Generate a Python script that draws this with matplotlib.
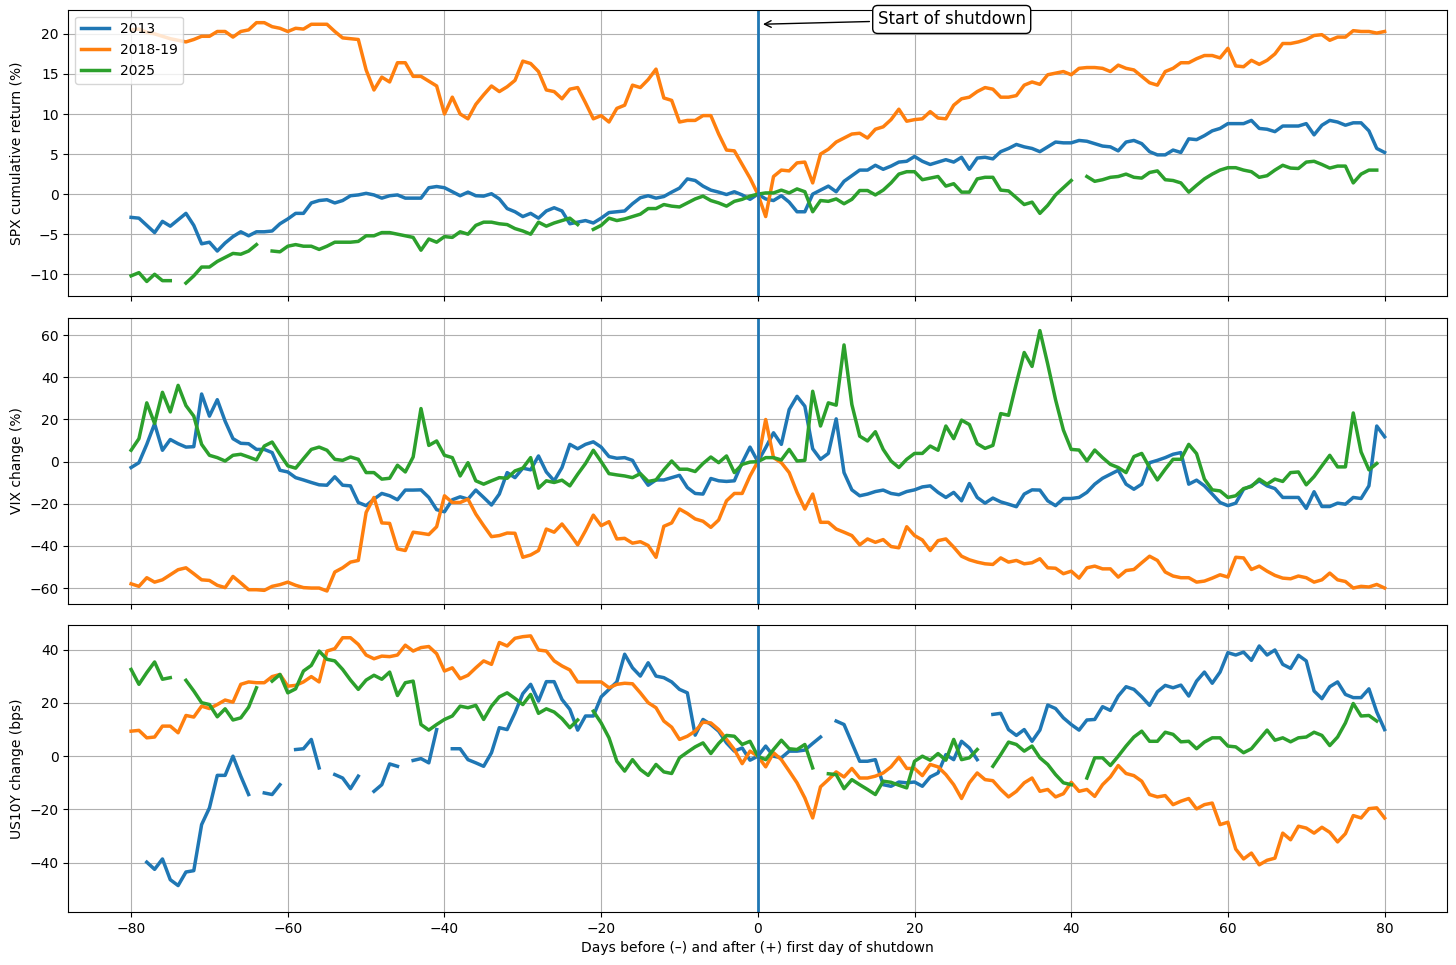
import numpy as np
import matplotlib
matplotlib.use("Agg")
import matplotlib.pyplot as plt

nan = np.nan
days = np.arange(-80, 81)

# SPX cumulative return (%)
spx_2013 = [
    -2.9, -3.0, -3.9, -4.8, -3.4, -4.0, -3.2, -2.4, -3.9, -6.2,
    -6.0, -7.1, -6.1, -5.3, -4.7, -5.2, -4.7, -4.7, -4.6, -3.7,
    -3.1, -2.4, -2.4, -1.1, -0.8, -0.7, -1.1, -0.8, -0.2, -0.1,
    0.1, -0.1, -0.5, -0.2, -0.1, -0.5, -0.5, -0.5, 0.8, 0.95,
    0.8, 0.3, -0.2, 0.25, -0.2, -0.25, 0.05, -0.6, -1.8, -2.2,
    -2.8, -2.4, -3.0, -2.1, -1.7, -2.1, -3.7, -3.5, -3.3, -3.6,
    -3.0, -2.3, -2.2, -2.1, -1.2, -0.45, -0.2, -0.5, -0.3, 0.25,
    0.75, 1.9, 1.7, 1.0, 0.5, 0.25, -0.05, 0.3, -0.1, -0.65,
    0.0, -0.6, -0.8, -0.2, -1.0, -2.2, -2.2, 0.0, 0.5, 1.0,
    0.3, 1.6, 2.3, 3.0, 3.0, 3.6, 3.1, 3.5, 4.0, 4.1,
    4.7, 4.1, 3.7, 4.0, 4.3, 4.0, 4.6, 3.1, 4.5, 4.6,
    4.4, 5.3, 5.7, 6.2, 5.9, 5.7, 5.3, 5.9, 6.5, 6.4,
    6.4, 6.7, 6.6, 6.3, 6.0, 5.9, 5.4, 6.5, 6.7, 6.3,
    5.3, 4.9, 4.9, 5.5, 5.2, 6.9, 6.8, 7.3, 7.9, 8.2,
    8.8, 8.8, 8.8, 9.2, 8.2, 8.1, 7.8, 8.5, 8.5, 8.5,
    8.8, 7.4, 8.6, 9.2, 9.0, 8.6, 8.9, 8.9, 7.9, 5.7, 5.2]

spx_2018 = [
    20.5, 20.6, 20.2, 20.0, 19.7, 19.4, 19.2, 19.0, 19.3, 19.7,
    19.7, 20.3, 20.3, 19.6, 20.3, 20.5, 21.4, 21.4, 20.9, 20.7,
    20.3, 20.7, 20.6, 21.2, 21.2, 21.2, 20.3, 19.5, 19.4, 19.3,
    15.5, 13.0, 14.6, 14.0, 16.4, 16.4, 14.7, 14.7, 14.1, 13.5,
    10.0, 12.1, 10.0, 9.4, 11.2, 12.4, 13.5, 12.8, 13.4, 14.2,
    16.6, 16.3, 15.3, 13.0, 12.8, 11.9, 13.1, 13.3, 11.4, 9.4,
    9.8, 9.0, 10.7, 11.1, 13.6, 13.3, 14.3, 15.6, 12.0, 11.7,
    9.0, 9.2, 9.2, 9.8, 9.8, 7.5, 5.5, 5.4, 3.7, 2.0,
    0.0, -2.8, 2.2, 3.0, 2.9, 3.9, 4.0, 1.4, 5.0, 5.6,
    6.5, 7.0, 7.5, 7.6, 7.0, 8.1, 8.4, 9.3, 10.6, 9.1,
    9.3, 9.4, 10.3, 9.5, 9.4, 11.1, 11.9, 12.1, 12.8, 13.3,
    13.1, 12.1, 12.1, 12.3, 13.6, 14.0, 13.7, 14.9, 15.1, 15.3,
    14.9, 15.7, 15.8, 15.8, 15.7, 15.3, 16.1, 15.7, 15.5, 14.7,
    13.9, 13.6, 15.3, 15.7, 16.4, 16.4, 16.9, 17.3, 17.3, 17.0,
    18.2, 16.0, 15.9, 16.7, 16.2, 16.7, 17.5, 18.8, 18.8, 19.0,
    19.3, 19.8, 19.9, 19.2, 19.6, 19.6, 20.4, 20.3, 20.3, 20.1, 20.3]

spx_2025 = [
    -10.2, -9.8, -10.9, -10.0, -10.8, -10.8, nan, -11.1, -10.2, -9.1,
    -9.1, -8.4, -7.9, -7.4, -7.5, -7.1, -6.3, nan, -7.1, -7.2,
    -6.5, -6.3, -6.5, -6.5, -6.9, -6.5, -6.0, -6.0, -6.0, -5.9,
    -5.2, -5.2, -4.8, -4.8, -5.0, -5.2, -5.4, -7.0, -5.6, -6.0,
    -5.3, -5.4, -4.7, -5.0, -3.9, -3.5, -3.5, -3.7, -3.8, -4.3,
    -4.6, -5.0, -3.5, -4.0, -3.6, -3.3, -3.0, -3.8, nan, -4.4,
    -3.9, -3.0, -3.3, -3.1, -2.8, -2.5, -1.8, -1.8, -1.3, -1.5,
    -1.6, -1.1, -0.6, -0.25, -0.8, -1.1, -1.5, -0.9, -0.65, -0.25,
    0.0, 0.15, 0.15, 0.5, 0.15, 0.65, 0.3, -2.2, -0.8, -0.9,
    -0.6, -1.2, -0.65, 0.45, 0.45, -0.1, 0.5, 1.4, 2.5, 2.8,
    2.8, 1.8, 2.0, 2.2, 1.0, 1.3, 0.25, 0.25, 1.9, 2.1,
    2.1, 0.5, 0.4, -0.45, -1.3, -1.0, -2.4, -1.4, -0.1, 0.8,
    1.7, nan, 2.2, 1.6, 1.8, 2.1, 2.2, 2.5, 2.1, 2.0,
    2.7, 2.9, 1.8, 1.7, 1.4, 0.25, 1.1, 1.9, 2.5, 3.0,
    3.3, 3.3, 3.0, 2.8, 2.1, 2.3, 3.0, 3.6, 3.25, 3.2,
    4.0, 4.1, 3.7, 3.25, 3.5, 3.5, 1.4, 2.5, 3.0, 3.0, nan]

# VIX change (%)
vix_2013 = [
    -2.8, -0.5, 8.2, 18.0, 5.4, 10.5, 8.5, 6.9, 7.1, 32.1,
    21.6, 29.4, 19.2, 10.9, 8.7, 8.5, 5.8, 5.8, 4.3, -4.1,
    -4.9, -7.6, -8.7, -9.9, -11.0, -11.2, -7.2, -11.2, -11.5, -19.4,
    -20.9, -17.8, -15.1, -16.2, -18.1, -13.5, -13.5, -13.4, -17.0, -22.8,
    -23.8, -18.1, -16.7, -17.8, -13.5, -17.0, -20.6, -15.4, -5.2, -7.6,
    -3.1, -3.9, 2.7, -4.9, -9.1, -2.8, 8.2, 6.1, 8.2, 9.4,
    6.9, 2.4, 1.6, 1.9, 0.6, -6.0, -11.2, -8.7, -8.7, -7.6,
    -6.5, -12.3, -15.1, -15.4, -8.0, -9.1, -9.4, -9.1, -0.5, 6.9,
    0.0, 6.6, 13.7, 8.2, 24.7, 31.0, 26.3, 6.1, 1.1, 3.9,
    20.3, -5.2, -13.4, -16.2, -15.4, -14.2, -13.5, -15.1, -15.7, -14.2,
    -13.4, -12.0, -11.5, -14.6, -17.0, -14.6, -18.6, -10.4, -17.0, -19.7,
    -17.3, -19.1, -20.2, -21.4, -15.4, -13.4, -13.5, -18.6, -20.9, -17.5,
    -17.5, -17.0, -14.6, -10.7, -7.9, -6.0, -4.1, -10.7, -13.1, -10.7,
    -0.5, 0.6, 1.9, 3.5, 4.3, -10.7, -8.8, -11.5, -15.4, -19.4,
    -20.9, -19.7, -13.1, -11.5, -9.1, -11.5, -12.8, -17.0, -17.0, -17.0,
    -22.2, -14.3, -21.3, -21.3, -19.7, -20.2, -17.0, -17.5, -11.5, 16.9, 11.8]

vix_2018 = [
    -58.0, -59.2, -55.1, -57.2, -56.1, -53.7, -51.3, -50.4, -53.2, -56.1,
    -56.4, -58.7, -59.8, -54.5, -57.6, -60.8, -60.8, -61.1, -59.2, -58.4,
    -57.2, -58.7, -59.8, -60.0, -60.0, -61.4, -52.4, -50.4, -47.7, -46.9,
    -24.1, -17.0, -29.1, -29.3, -41.4, -42.2, -33.5, -34.0, -34.6, -30.9,
    -16.2, -19.4, -19.4, -17.8, -24.9, -30.4, -35.6, -35.1, -33.9, -34.0,
    -45.4, -44.3, -42.2, -32.0, -33.5, -29.6, -34.3, -39.5, -32.8, -25.4,
    -30.4, -28.5, -36.7, -36.4, -38.7, -38.0, -39.8, -45.4, -30.7, -29.1,
    -22.5, -24.6, -27.2, -28.3, -31.2, -27.7, -18.6, -15.1, -15.1, -6.8,
    0.0, 20.0, 1.9, -0.5, -5.2, -14.6, -22.5, -15.4, -28.8, -28.8,
    -32.0, -33.5, -35.1, -39.5, -36.7, -38.3, -37.0, -40.3, -40.9, -30.9,
    -35.1, -37.2, -42.2, -37.5, -36.7, -40.6, -44.9, -46.6, -47.7, -48.5,
    -48.8, -45.7, -47.7, -46.9, -48.5, -48.0, -46.1, -50.4, -50.6, -53.2,
    -52.0, -55.3, -50.4, -49.6, -50.9, -50.9, -54.8, -51.7, -51.2, -48.0,
    -44.9, -46.9, -52.4, -54.3, -55.1, -55.1, -57.2, -56.7, -55.3, -53.7,
    -54.8, -45.4, -45.7, -51.2, -49.6, -52.0, -54.0, -55.3, -55.6, -54.3,
    -55.1, -57.2, -56.1, -52.9, -56.1, -56.9, -60.0, -59.2, -59.5, -58.3, -60.0]

vix_2025 = [
    5.4, 10.9, 27.9, 18.1, 32.9, 23.6, 36.2, 26.6, 21.6, 8.2,
    3.0, 1.9, 0.3, 3.0, 3.5, 2.2, 0.8, 7.4, 9.3, 3.5,
    -2.0, -3.1, 1.4, 5.8, 6.9, 5.4, 1.1, 0.6, 2.2, 1.1,
    -5.2, -5.2, -8.3, -7.9, -1.7, -4.9, 2.2, 25.2, 7.7, 9.8,
    3.0, 1.9, -6.8, -0.5, -9.1, -10.7, -9.1, -7.6, -7.9, -4.4,
    -3.1, 1.9, -12.6, -9.1, -9.9, -8.8, -11.5, -6.0, -0.9, 5.4,
    0.0, -5.7, -6.3, -6.8, -7.6, -5.7, -9.4, -8.7, -3.9, 0.3,
    -3.6, -3.6, -4.7, -0.9, 2.2, -0.5, 2.7, -5.2, -1.3, -0.2,
    0.0, 1.9, 1.9, 0.8, 5.8, 0.3, 0.6, 33.4, 16.9, 27.9,
    26.8, 55.4, 27.1, 12.1, 9.8, 14.2, 5.8, 0.3, -2.8, 1.1,
    3.9, 3.9, 7.4, 5.4, 16.9, 10.9, 19.7, 17.6, 8.5, 6.3,
    7.7, 22.8, 22.0, 37.3, 51.8, 45.2, 62.2, 46.3, 29.4, 15.0,
    5.8, 5.5, 0.3, 5.5, 1.9, -1.3, -2.8, -5.2, 2.4, 3.9,
    -2.8, -8.7, -3.6, 1.1, 1.1, 8.2, 3.8, -8.3, -13.4, -13.9,
    -17.0, -16.2, -12.8, -11.8, -8.3, -10.7, -8.3, -9.4, -5.2, -4.9,
    -11.0, -7.1, -2.0, 3.0, -2.5, -2.5, 23.1, 4.6, -3.9, -0.9, nan]

# US10Y change (bps)
us10_2013 = [
    nan, nan, -39.8, -42.5, -38.6, -46.4, -48.6, -43.5, -43.0, -25.7,
    -19.4, -7.2, -7.2, 0.0, -7.5, -14.4, nan, -13.8, -14.4, -10.7,
    nan, 2.5, 2.8, 6.3, -4.4, nan, -6.9, -8.2, -12.2, -7.5,
    nan, -13.2, -10.7, -2.9, -3.8, nan, -1.6, -0.9, -2.5, 10.0,
    nan, 2.8, 2.8, -1.3, -2.5, -3.8, 1.3, 10.7, 10.0, 16.3,
    23.5, 27.0, 20.7, 28.0, 28.0, 21.3, 17.6, 9.8, 15.1, 15.1,
    22.3, 25.1, 27.9, 38.3, 33.2, 30.1, 35.1, 30.1, 29.5, 27.9,
    25.1, 23.8, 7.9, 13.8, 11.9, 9.4, 5.0, 1.9, 3.1, -1.5,
    0.0, 3.8, 0.0, -0.6, 1.9, 1.9, 2.3, 4.8, 7.2, nan,
    13.2, 11.9, 5.0, -1.9, -1.9, -1.3, -10.7, -11.3, -9.7, -10.0,
    -9.7, -11.3, -7.8, -6.3, 0.6, -1.3, 5.6, 3.1, -1.3, nan,
    15.7, 16.1, 10.0, 7.8, 10.0, 5.6, 9.8, 19.2, 17.9, 14.4,
    11.9, 9.8, 13.6, 13.8, 18.6, 17.2, 22.6, 26.1, 25.1, 22.3,
    19.1, 24.2, 26.6, 25.7, 26.7, 22.6, 28.2, 31.6, 27.4, 31.6,
    38.9, 38.0, 39.1, 36.0, 41.4, 38.0, 39.9, 34.5, 33.0, 37.9,
    35.8, 24.5, 21.6, 26.1, 27.9, 23.2, 22.0, 22.0, 25.3, 16.6, 10.0]

us10_2018 = [
    9.4, 9.7, 6.9, 7.2, 11.3, 11.3, 8.8, 15.3, 14.7, 18.8,
    17.9, 19.4, 21.1, 20.3, 27.0, 27.9, 27.6, 27.6, 29.9, 30.7,
    26.3, 26.6, 27.9, 29.9, 27.9, 39.5, 40.4, 44.5, 44.5, 42.0,
    38.0, 36.6, 37.6, 37.4, 38.0, 41.7, 39.5, 40.8, 41.2, 38.5,
    32.0, 33.2, 29.1, 30.4, 33.2, 35.8, 34.5, 42.7, 41.4, 44.3,
    44.9, 45.2, 39.9, 39.5, 35.8, 33.9, 32.4, 27.9, 27.9, 27.9,
    27.9, 25.7, 27.0, 27.4, 27.2, 23.8, 20.1, 18.2, 13.2, 10.9,
    6.3, 7.5, 9.4, 12.8, 12.5, 10.0, 6.3, 2.5, -2.8, 1.9,
    0.0, -4.0, 1.3, -1.3, -5.6, -10.0, -15.7, -23.2, -11.5, -8.8,
    -5.9, -7.8, -4.6, -8.2, -8.2, -7.5, -6.3, -4.0, -0.4, -4.6,
    -4.6, -7.3, -3.1, -4.0, -6.9, -10.7, -15.9, -10.0, -6.3, -8.8,
    -9.2, -12.5, -15.3, -13.2, -10.0, -8.2, -13.2, -12.5, -15.3, -14.1,
    -9.8, -13.2, -12.5, -15.1, -10.7, -7.8, -3.5, -6.5, -7.3, -9.4,
    -14.4, -15.3, -14.8, -18.2, -16.9, -15.9, -19.8, -18.2, -17.6, -25.7,
    -24.8, -34.9, -38.6, -36.4, -40.8, -39.1, -38.3, -28.9, -31.4, -26.3,
    -27.0, -28.9, -26.7, -28.6, -32.2, -29.1, -22.3, -23.2, -19.7, -19.4, -23.2]

us10_2025 = [
    32.6, 27.0, 31.4, 35.4, 28.9, 29.5, nan, 28.5, 24.5, 20.1,
    19.4, 14.8, 17.8, 13.6, 14.4, 18.4, 25.7, nan, 28.2, 30.7,
    23.8, 25.3, 32.0, 34.1, 39.5, 36.4, 35.8, 32.6, 28.6, 25.1,
    28.6, 30.4, 28.9, 31.6, 22.8, 27.6, 28.2, 11.9, 9.8, 11.9,
    13.8, 15.1, 18.8, 18.2, 19.1, 13.8, 18.8, 22.3, 23.8, 21.7,
    19.4, 23.2, 16.1, 17.8, 16.6, 14.1, 10.7, 13.6, nan, 16.9,
    12.5, 6.9, -1.9, -5.6, -1.3, -5.0, -7.2, -3.1, -5.9, -6.5,
    -0.6, 1.5, 3.5, 5.0, 1.0, 4.8, 7.8, 7.5, 4.4, 5.6,
    0.0, -1.3, 2.5, 6.0, 2.8, 2.5, 4.4, -4.4, nan, -6.6,
    -6.9, -12.2, -8.8, -10.7, -12.5, -14.4, -9.4, -9.8, -10.9, -11.9,
    -1.9, 0.0, -1.5, 1.0, -1.5, 6.3, -1.3, -0.6, 2.5, nan,
    -3.8, 0.6, 5.3, 4.4, 1.9, 3.8, -0.6, -3.1, -6.9, -10.0,
    -10.7, nan, -8.2, -0.6, -0.6, -3.5, 0.0, 3.8, 7.2, 9.4,
    5.6, 5.6, 9.0, 8.2, 5.4, 5.6, 2.8, 5.3, 6.9, 6.9,
    3.8, 3.5, 1.3, 2.8, 6.3, 9.8, 6.0, 6.9, 5.4, 6.9,
    7.2, 9.0, 7.8, 4.0, 7.2, 12.5, 19.8, 15.1, 15.3, 13.2, nan]

labels = ['2013', '2018-19', '2025']
panels = [
    ('SPX cumulative return (%)', [spx_2013, spx_2018, spx_2025]),
    ('VIX change (%)', [vix_2013, vix_2018, vix_2025]),
    ('US10Y change (bps)', [us10_2013, us10_2018, us10_2025]),
]

fig, axes = plt.subplots(3, 1, sharex=True, figsize=(14.56, 9.65), dpi=100)
fig.subplots_adjust(left=0.047, right=0.994, top=0.99, bottom=0.055, hspace=0.075)

for ax, (ylab, series) in zip(axes, panels):
    for lab, vals in zip(labels, series):
        ax.plot(days, vals, lw=2.5, label=lab)
    ax.axvline(0, color='tab:blue', lw=2)
    ax.set_ylabel(ylab)
    ax.grid(True)

axes[2].set_ylim(-58.5, 49.1)

axes[0].legend(loc='upper left')
axes[0].annotate('Start of shutdown', xy=(0.3, 21.2), xytext=(15.3, 21.8),
                 fontsize=12, va='center', ha='left',
                 arrowprops=dict(arrowstyle='->', color='black'),
                 bbox=dict(boxstyle='round', fc='white', ec='black'))
axes[2].set_xlabel('Days before (\u2013) and after (+) first day of shutdown')

plt.savefig('out.png')
